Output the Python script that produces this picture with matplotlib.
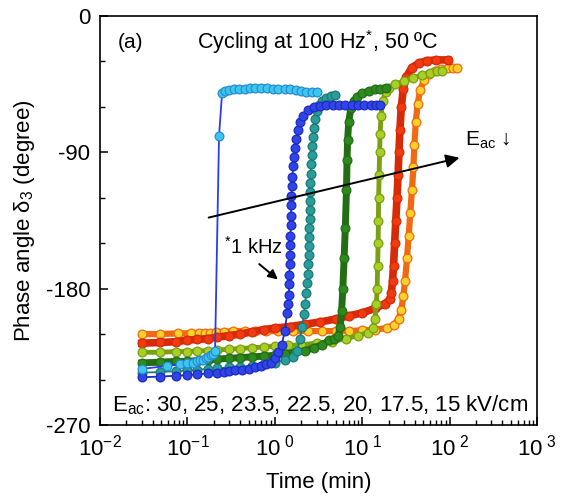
import matplotlib
matplotlib.use('Agg')
import matplotlib.pyplot as plt
from matplotlib.ticker import MultipleLocator, FixedLocator, LogLocator, NullFormatter

plt.rcParams['font.family'] = ['Liberation Sans', 'DejaVu Sans']
plt.rcParams['mathtext.fontset'] = 'custom'
plt.rcParams['mathtext.rm'] = 'Liberation Sans'
plt.rcParams['mathtext.it'] = 'Liberation Sans:italic'
plt.rcParams['mathtext.default'] = 'regular'

#DATA (time in min, phase angle in degree):
# 30 kV/cm
t_30 = [0.030, 0.058, 0.082, 0.100, 0.116, 0.129, 0.140, 0.151, 0.162, 0.172,
        0.184, 0.196, 0.207, 0.230, 0.249, 0.27, 0.30, 0.34, 0.39, 0.45,
        0.52, 0.60, 0.70, 0.82, 0.95, 1.1, 1.3, 1.5, 1.75, 2.0,
        2.3, 2.65, 3.04]
ph_30 = [-233, -231, -230, -229, -229, -228, -227, -227, -226, -225,
         -224, -223, -221, -79, -51, -49.5, -49, -48.5, -48, -48,
         -47.5, -47.5, -47.5, -47.5, -48, -48, -48.5, -48.5, -49, -49.5,
         -50, -50, -50.5]

# 25 kV/cm (cycled at 1 kHz)
t_25 = [0.030, 0.049, 0.074, 0.099, 0.129, 0.17, 0.22, 0.26, 0.30, 0.35,
        0.42, 0.50, 0.60, 0.70, 0.80, 0.90, 1.00, 1.10, 1.20, 1.30,
        1.38, 1.42, 1.44, 1.46, 1.47, 1.48, 1.49, 1.50, 1.51, 1.52,
        1.53, 1.54, 1.55, 1.57, 1.59, 1.62, 1.66, 1.70, 1.76, 1.85,
        1.95, 2.1, 2.4, 2.8, 3.3, 3.9, 4.6, 5.4, 6.4, 7.6,
        9.0, 10.6, 12.5, 14.3, 16.0]
ph_25 = [-238.5, -238, -237.5, -237, -236.5, -236, -235.5, -235, -234.5, -234,
         -233.5, -233, -232, -231, -230, -229, -226, -222, -217, -208,
         -196, -190, -184, -177, -171, -164, -158, -151, -145, -138,
         -132, -125, -119, -112, -106, -99, -93, -87, -81, -75,
         -70, -66, -62, -60, -59.5, -59, -59, -59, -59, -59,
         -59, -59, -59, -59, -59]

# 23.5 kV/cm
t_235 = [0.030, 0.049, 0.074, 0.10, 0.13, 0.17, 0.22, 0.30, 0.40, 0.55,
         0.75, 1.0, 1.3, 1.6, 1.8, 1.95, 2.05, 2.15, 2.22, 2.28,
         2.33, 2.37, 2.40, 2.43, 2.45, 2.47, 2.49, 2.50, 2.51, 2.52,
         2.53, 2.55, 2.57, 2.60, 2.63, 2.66, 2.70, 2.78, 2.88, 3.0,
         3.2, 3.5, 3.9, 4.4, 4.9]
ph_235 = [-235.5, -235, -234.5, -234, -233.5, -233, -232.5, -232, -231.5, -231,
          -230, -229, -227, -225, -221, -213, -205, -197, -190, -183,
          -176, -170, -164, -158, -152, -146, -140, -134, -128, -122,
          -116, -110, -104, -98, -92, -86, -80, -74, -68, -63,
          -59, -56, -54, -52.5, -52]

# 22.5 kV/cm
t_225 = [0.030, 0.049, 0.074, 0.10, 0.13, 0.17, 0.22, 0.30, 0.40, 0.55,
         0.75, 1.0, 1.3, 1.7, 2.2, 2.8, 3.5, 4.2, 4.8, 5.3,
         5.6, 5.8, 6.0, 6.2, 6.4, 6.6, 6.7, 6.8, 7.0, 7.4,
         8.0, 8.7, 10, 12, 14, 16, 18.5]
ph_225 = [-229, -228.5, -228, -228, -227.5, -227, -226.5, -226, -225.5, -225,
          -224.5, -224, -223, -222, -221, -219, -217, -214, -213, -211,
          -205, -195, -180, -160, -140, -115, -95, -82, -70, -61,
          -56, -53.5, -51, -49.5, -48.5, -48, -47.5]

# 20 kV/cm
t_20 = [0.030, 0.049, 0.074, 0.10, 0.13, 0.17, 0.22, 0.30, 0.40, 0.55,
        0.75, 1.0, 1.4, 2.0, 3.0, 4.5, 6.5, 9.0, 11.5, 13.3,
        14.0, 14.5, 14.8, 15.0, 15.2, 15.3, 15.4, 15.6, 15.8, 16.0,
        16.4, 17.2, 18.5, 20, 24, 30, 38, 48, 60, 72, 82]
ph_20 = [-222, -222, -221.5, -221.5, -221, -221, -220.5, -220, -219.5, -219,
         -218.5, -218, -217.5, -217, -216, -215, -213, -211, -209, -206,
         -200, -190, -180, -165, -150, -135, -120, -105, -90, -78,
         -66, -56, -50, -47.5, -45, -43, -41, -39, -37.5, -36.5, -36]

# 17.5 kV/cm
t_175 = [0.030, 0.049, 0.074, 0.10, 0.13, 0.17, 0.22, 0.30, 0.40, 0.55,
         0.75, 1.0, 1.5, 2.2, 3.3, 5.0, 7.0, 10, 14, 18,
         21, 21.5, 22.2, 22.8, 23.5, 24.2, 25.0, 25.7, 26.3, 27.0,
         28.0, 29.5, 32, 37, 45, 55, 70, 95]
ph_175 = [-216, -215.5, -215, -214, -213.5, -213, -212, -211, -210, -208.5,
          -207, -206, -205, -203.5, -202, -200, -198, -196, -193, -190,
          -187, -183, -175, -165, -150, -135, -120, -105, -90, -75,
          -60, -48, -40, -34, -31, -29.5, -29, -29]

# 15 kV/cm
t_15 = [0.030, 0.049, 0.078, 0.109, 0.137, 0.16, 0.18, 0.21, 0.26, 0.33,
        0.45, 0.6, 0.8, 1.1, 1.6, 2.4, 3.5, 5, 7, 10,
        14, 19, 23, 26, 28, 29.5, 30.9, 32.5, 34, 35.5,
        37, 38.5, 39.5, 41, 43, 46, 51, 58, 68, 80,
        95, 110, 122]
ph_15 = [-210, -210, -209.5, -209.5, -209, -209, -209, -208.5, -208.5, -208,
         -208, -208, -208, -208, -208, -208, -208, -208, -208, -207.5,
         -207, -206, -204, -200, -194, -185, -175, -160, -145, -130,
         -115, -100, -85, -70, -58, -49, -42, -38, -36, -35,
         -34.5, -34, -34]

#plot: (time, phase, line colour, marker face, line width), bottom to top
series = [
    (t_15, ph_15, '#f06a12', '#f7d22a', 4.5),
    (t_175, ph_175, '#d62a08', '#f23a10', 5.5),
    (t_20, ph_20, '#7c9e12', '#a8cf24', 3.5),
    (t_225, ph_225, '#236e14', '#2e8a1e', 5.0),
    (t_235, ph_235, '#1a7a78', '#2a9d9a', 1.3),
    (t_25, ph_25, '#1c2bc0', '#2f45e8', 1.3),
    (t_30, ph_30, '#2b3cf0', '#3cc8ee', 1.3),
]

fig = plt.figure(figsize=(5.61, 5.00), dpi=100)
ax = fig.add_axes([0.1783, 0.15, 0.779, 0.818])

for t, ph, col, face, lw in series:
    mec = '#2a8ad0' if face == '#3cc8ee' else col
    ax.plot(t, ph, '-o', color=col, lw=lw, ms=6.3, mfc=face, mec=mec, mew=0.9)

ax.set_xscale('log')
ax.set_xlim(1e-2, 1e3)
ax.set_ylim(-270, 0)

xt = [1e-2, 1e-1, 1e0, 1e1, 1e2, 1e3]
xlabels = ['10$^{-2}$', '10$^{-1}$', '10$^{\\ 0}$', '10$^{\\ 1}$', '10$^{\\ 2}$', '10$^{\\ 3}$']
ax.xaxis.set_major_locator(FixedLocator(xt))
ax.set_xticklabels(xlabels)
ax.xaxis.set_minor_locator(LogLocator(base=10, subs=range(2, 10), numticks=20))
ax.xaxis.set_minor_formatter(NullFormatter())

ax.set_yticks([0, -90, -180, -270])
ax.set_yticklabels(['0', '-90', '-180', '-270'])
ax.yaxis.set_minor_locator(MultipleLocator(30))

ax.tick_params(which='both', direction='in', top=False, right=False, labelsize=16, pad=7)
ax.tick_params(which='major', length=6, width=1.1)
ax.tick_params(which='minor', length=3.5, width=1.0)
for s in ax.spines.values():
    s.set_linewidth(1.2)

ax.set_xlabel('Time (min)', fontsize=16, labelpad=8)
ax.set_ylabel('Phase angle δ$_3$ (degree)', fontsize=16, labelpad=6)

#texts:
ax.text(0.041, 0.936, '(a)', transform=ax.transAxes, fontsize=15, va='center')
ax.text(0.499, 0.936, 'Cycling at 100 Hz$^{*}$, 50 ºC', transform=ax.transAxes,
        fontsize=15.5, ha='center', va='center')
ax.text(0.835, 0.697, 'E$_{ac}$ ↓', transform=ax.transAxes, fontsize=15, va='center')
ax.text(0.027, 0.049, 'E$_{ac}$: 30, 25, 23.5, 22.5, 20, 17.5, 15 kV/cm',
        transform=ax.transAxes, fontsize=16, va='center')
ax.text(0.352, 0.435, '$^{*}$1 kHz', transform=ax.transAxes, fontsize=14.5, ha='center', va='center')

#arrows:
ax.annotate('', xy=(139, -93.2), xytext=(0.163, -133.5),
            arrowprops=dict(arrowstyle='-|>', color='k', lw=1.4, mutation_scale=20))
ax.annotate('', xy=(1.147, -175.1), xytext=(0.626, -162.6),
            arrowprops=dict(arrowstyle='-|>', color='k', lw=1.4, mutation_scale=14))

fig.savefig('out.png', dpi=100)
